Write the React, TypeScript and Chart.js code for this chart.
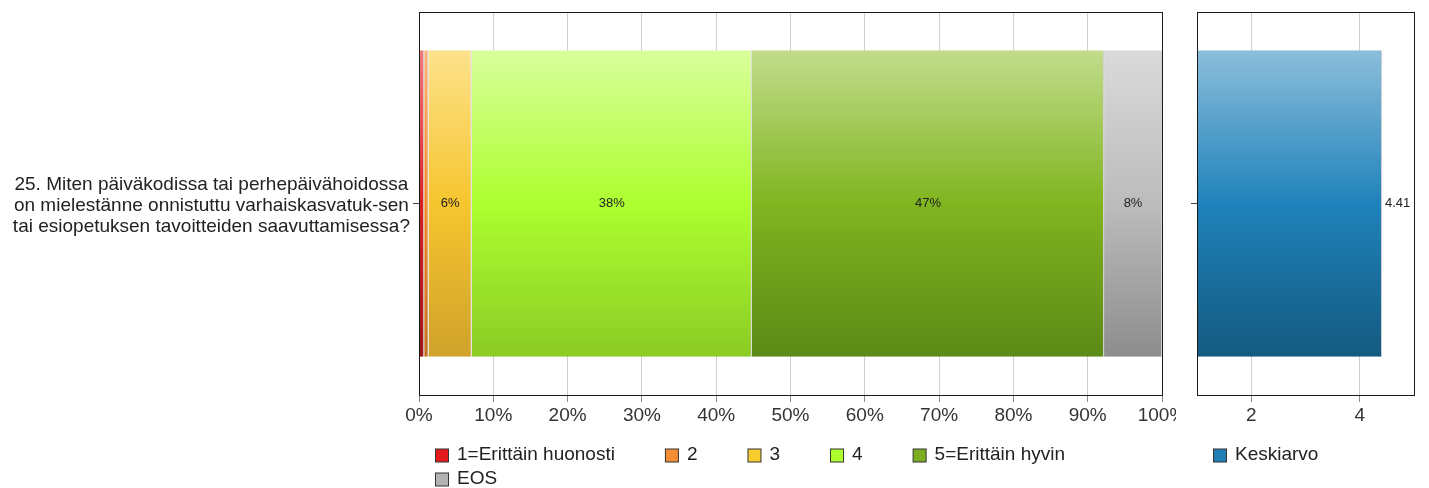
import React, { useEffect, useRef } from 'react';
import { Chart, registerables } from 'chart.js';

Chart.register(...registerables);

const FONT = "'Liberation Sans', Arial, Helvetica, sans-serif";

// ---- Data ----
const categories: string[][] = [[
  '25. Miten päiväkodissa tai perhepäivähoidossa',
  'on mielestänne onnistuttu varhaiskasvatuk-sen',
  'tai esiopetuksen tavoitteiden saavuttamisessa?',
]];
const seriesLabels = ['1=Erittäin huonosti', '2', '3', '4', '5=Erittäin hyvin', 'EOS'];
const values1 = [0.7];
const values2 = [0.6];
const values3 = [5.8];
const values4 = [37.7];
const values5 = [47.4];
const valuesEOS = [7.8];
const meanLabel = 'Keskiarvo';
const meanValues = [4.41];
const percentTicks = [0, 10, 20, 30, 40, 50, 60, 70, 80, 90, 100];
const meanTicks = [2, 4];

// ---- Styles ----
const seriesGradients = [
  ['#f27b7b', '#d92222', '#9c1616'],
  ['#f9b47c', '#f28b30', '#c46e24'],
  ['#fde28c', '#f6c52e', '#cfa22b'],
  ['#d9ff9c', '#adff2f', '#8bcb25'],
  ['#c2dc8c', '#80b520', '#5b8a16'],
  ['#dadada', '#bcbcbc', '#8d8d8d'],
];
const seriesLegendColors = ['#e31a1c', '#f58d33', '#f7cc2f', '#adff2f', '#7cad1f', '#b3b3b3'];
const meanGradient = ['#8cbedb', '#1f82bb', '#145a80'];
const meanLegendColor = '#1f7fb5';

const TEXT_SIZE = 19;

function gradientFill(stops: string[]) {
  return (ctx: any) => {
    const chart = ctx.chart;
    const area = chart.chartArea;
    if (!area) return stops[1];
    const h = area.bottom - area.top;
    const g = chart.ctx.createLinearGradient(0, area.top + h * 0.1, 0, area.top + h * 0.9);
    g.addColorStop(0, stops[0]);
    g.addColorStop(0.5, stops[1]);
    g.addColorStop(1, stops[2]);
    return g;
  };
}

const borderPlugin = {
  id: 'plotBorder',
  afterDraw(chart: any) {
    const { ctx, chartArea: a } = chart;
    ctx.save();
    ctx.strokeStyle = '#1a1a1a';
    ctx.lineWidth = 1;
    ctx.strokeRect(Math.round(a.left) + 0.5, Math.round(a.top) + 0.5, Math.round(a.right - a.left), Math.round(a.bottom - a.top));
    ctx.restore();
  },
};

function makeLegendPlugin(items: { label: string; color: string }[]) {
  return {
    id: 'customLegend',
    afterDraw(chart: any) {
      const { ctx, chartArea: a } = chart;
      ctx.save();
      ctx.font = `${TEXT_SIZE}px ${FONT}`;
      ctx.textBaseline = 'middle';
      ctx.textAlign = 'left';
      const box = 13;
      const startX = a.left + 16;
      let x = startX;
      let y = 455;
      const rowH = 24;
      items.forEach((it) => {
        const tw = ctx.measureText(it.label).width;
        const w = box + 9 + tw;
        if (x !== startX && x + w > a.right) {
          x = startX;
          y += rowH;
        }
        ctx.fillStyle = it.color;
        ctx.fillRect(x + 0.5, y - box / 2 + 0.5, box, box);
        ctx.strokeStyle = '#333';
        ctx.lineWidth = 1;
        ctx.strokeRect(x + 0.5, y - box / 2 + 0.5, box, box);
        ctx.fillStyle = '#222';
        ctx.fillText(it.label, x + box + 9, y);
        x += w + 50;
      });
      ctx.restore();
    },
  };
}

const stackLabelPlugin = {
  id: 'stackLabels',
  afterDatasetsDraw(chart: any) {
    const { ctx } = chart;
    ctx.save();
    ctx.font = `13px ${FONT}`;
    ctx.fillStyle = '#222';
    ctx.textAlign = 'center';
    ctx.textBaseline = 'middle';
    chart.data.datasets.forEach((ds: any, di: number) => {
      const meta = chart.getDatasetMeta(di);
      meta.data.forEach((bar: any, i: number) => {
        const v = ds.data[i];
        if (v < 3) return;
        const left = Math.min(bar.x, bar.base);
        const right = Math.max(bar.x, bar.base);
        ctx.fillText(Math.round(v) + '%', (left + right) / 2, bar.y);
      });
    });
    ctx.restore();
  },
};

const meanLabelPlugin = {
  id: 'meanLabels',
  afterDatasetsDraw(chart: any) {
    const { ctx } = chart;
    ctx.save();
    ctx.font = `13px ${FONT}`;
    ctx.fillStyle = '#222';
    ctx.textAlign = 'left';
    ctx.textBaseline = 'middle';
    chart.data.datasets.forEach((ds: any, di: number) => {
      const meta = chart.getDatasetMeta(di);
      meta.data.forEach((bar: any, i: number) => {
        ctx.fillText(ds.data[i].toFixed(2), bar.x + 3, bar.y);
      });
    });
    ctx.restore();
  },
};

const fitX = (s: any) => {
  s.height = 30;
  s.paddingLeft = 0;
  s.paddingRight = 0;
  s.paddingTop = 0;
  s.paddingBottom = 0;
};

const fitY = (w: number) => (s: any) => {
  s.width = w;
  s.paddingLeft = 0;
  s.paddingRight = 0;
  s.paddingTop = 0;
  s.paddingBottom = 0;
};

export default function App() {
  const mainRef = useRef<HTMLCanvasElement | null>(null);
  const meanRef = useRef<HTMLCanvasElement | null>(null);

  useEffect(() => {
    const allValues = [values1, values2, values3, values4, values5, valuesEOS];
    const main = new Chart(mainRef.current as HTMLCanvasElement, {
      type: 'bar',
      data: {
        labels: categories as any,
        datasets: seriesLabels.map((label, i) => ({
          label,
          data: allValues[i],
          backgroundColor: gradientFill(seriesGradients[i]),
          borderColor: 'rgba(0,0,0,0.18)',
          borderWidth: { left: 0, right: 1, top: 0, bottom: 0 },
          borderSkipped: false,
          barPercentage: 0.8,
          categoryPercentage: 1,
        })),
      },
      options: {
        indexAxis: 'y',
        responsive: false,
        animation: false,
        layout: { padding: { top: 12, right: 14, bottom: 63, left: 0 } },
        plugins: { legend: { display: false }, tooltip: { enabled: false } },
        scales: {
          x: {
            stacked: true,
            min: 0,
            max: 100,
            afterBuildTicks: (s: any) => { s.ticks = percentTicks.map((v) => ({ value: v })); },
            afterFit: fitX,
            ticks: {
              callback: (v: any) => v + '%',
              font: { family: FONT, size: TEXT_SIZE },
              color: '#333',
              padding: 2,
              maxRotation: 0,
              autoSkip: false,
            },
            grid: { color: '#d0d0d0', tickLength: 7, tickColor: '#888' },
            border: { display: false },
          },
          y: {
            stacked: true,
            afterFit: fitY(419),
            ticks: {
              font: { family: FONT, size: TEXT_SIZE, lineHeight: 21 / TEXT_SIZE },
              color: '#222',
              crossAlign: 'center',
              padding: 3,
              labelOffset: 2,
            },
            grid: { drawOnChartArea: false, drawTicks: true, tickLength: 6, offset: false, color: '#444' },
            border: { display: false },
          },
        },
      } as any,
      plugins: [
        borderPlugin,
        stackLabelPlugin,
        makeLegendPlugin(seriesLabels.map((l, i) => ({ label: l, color: seriesLegendColors[i] }))),
      ],
    });

    const mean = new Chart(meanRef.current as HTMLCanvasElement, {
      type: 'bar',
      data: {
        labels: categories as any,
        datasets: [{
          label: meanLabel,
          data: meanValues,
          backgroundColor: gradientFill(meanGradient),
          borderColor: 'rgba(0,0,0,0.2)',
          borderWidth: { left: 0, right: 1, top: 0, bottom: 0 },
          borderSkipped: false,
          barPercentage: 0.8,
          categoryPercentage: 1,
        }],
      },
      options: {
        indexAxis: 'y',
        responsive: false,
        animation: false,
        layout: { padding: { top: 12, right: 15, bottom: 63, left: 0 } },
        plugins: { legend: { display: false }, tooltip: { enabled: false } },
        scales: {
          x: {
            min: 1,
            max: 5,
            afterBuildTicks: (s: any) => { s.ticks = meanTicks.map((v) => ({ value: v })); },
            afterFit: fitX,
            ticks: {
              font: { family: FONT, size: TEXT_SIZE },
              color: '#333',
              padding: 2,
              maxRotation: 0,
            },
            grid: { color: '#d0d0d0', tickLength: 7, tickColor: '#888' },
            border: { display: false },
          },
          y: {
            afterFit: fitY(21),
            ticks: { callback: () => '', padding: 0 },
            grid: { drawOnChartArea: false, drawTicks: true, tickLength: 6, offset: false, color: '#444' },
            border: { display: false },
          },
        },
      } as any,
      plugins: [
        borderPlugin,
        meanLabelPlugin,
        makeLegendPlugin([{ label: meanLabel, color: meanLegendColor }]),
      ],
    });

    return () => {
      main.destroy();
      mean.destroy();
    };
  }, []);

  return (
    <div style={{ position: 'absolute', left: 0, top: 0, width: 1429, height: 488, background: '#fff', overflow: 'hidden' }}>
      <canvas ref={mainRef} width={1176} height={488} style={{ position: 'absolute', left: 0, top: 0 }} />
      <canvas ref={meanRef} width={253} height={488} style={{ position: 'absolute', left: 1176, top: 0 }} />
    </div>
  );
}
